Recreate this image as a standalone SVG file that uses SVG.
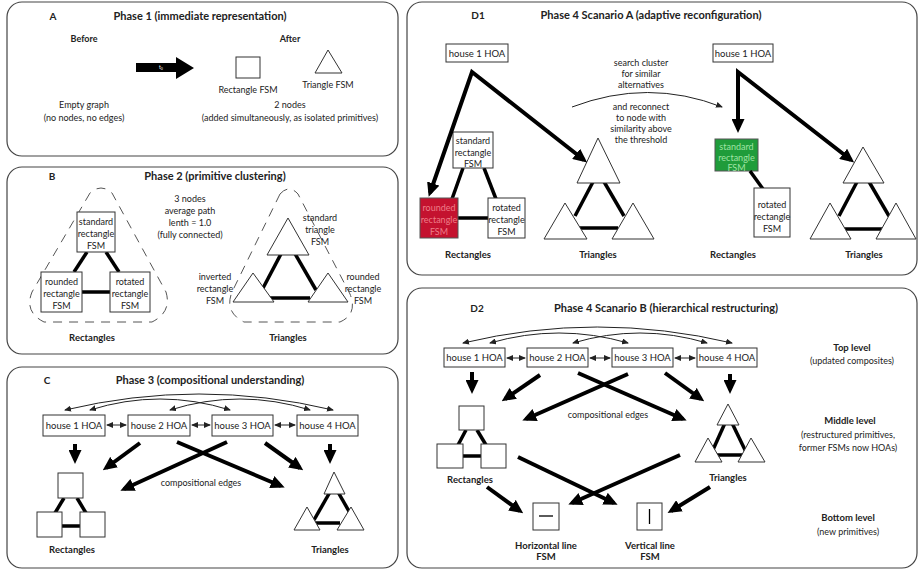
<svg xmlns="http://www.w3.org/2000/svg" width="920" height="570" viewBox="0 0 920 570">
<style>
.frame{fill:#fff;stroke:#444;stroke-width:1.2}
.t{font-family:Lato,"Liberation Sans",sans-serif;font-size:9px;fill:#222;text-anchor:middle}
.b{font-weight:bold}
.title{font-size:11px;font-weight:bold}
.lbl{font-size:9.5px;font-weight:bold}
.box{fill:#fff;stroke:#333;stroke-width:1}
.edge{stroke:#000;stroke-width:3.5;fill:none}
.arr{stroke:#000;stroke-width:4;fill:none;marker-end:url(#big)}
.arr2{stroke:#000;stroke-width:4;fill:none;marker-start:url(#big);marker-end:url(#big);stroke-linejoin:miter}
.thin{stroke:#222;stroke-width:1;fill:none;marker-start:url(#sm);marker-end:url(#sm)}
.tri{fill:#fff;stroke:#333;stroke-width:1}
.dash{fill:none;stroke:#555;stroke-width:1;stroke-dasharray:9 7}
</style>
<defs>
<marker id="big" viewBox="0 0 14 13" markerWidth="14" markerHeight="13" refX="10" refY="6.5" orient="auto-start-reverse" markerUnits="userSpaceOnUse"><path d="M0,0 L14,6.5 L0,13 z" fill="#000"/></marker>
<marker id="sm" viewBox="0 0 7 6" markerWidth="7" markerHeight="6" refX="6" refY="3" orient="auto-start-reverse" markerUnits="userSpaceOnUse"><path d="M0,0 L7,3 L0,6 z" fill="#222"/></marker>
<marker id="sm1" viewBox="0 0 7 6" markerWidth="7" markerHeight="6" refX="6" refY="3" orient="auto" markerUnits="userSpaceOnUse"><path d="M0,0 L7,3 L0,6 z" fill="#222"/></marker>
</defs>

<!-- Panel A -->
<g id="panelA">
<rect class="frame" x="7" y="2" width="391" height="154" rx="15"/>
<text class="t b" x="53" y="20" style="font-size:10px">A</text>
<text class="t title" x="200" y="20">Phase 1 (immediate representation)</text>
<text class="t b" x="84" y="42">Before</text>
<text class="t b" x="290" y="42">After</text>
<text class="t" x="84" y="108">Empty graph</text>
<text class="t" x="84" y="121">(no nodes, no edges)</text>
<text class="t" x="290" y="108">2 nodes</text>
<text class="t" x="290" y="121">(added simultaneously, as isolated primitives)</text>
</g>
<g id="arrowA">
<polygon points="136,63 176,63 176,57 194,68 176,79 176,72 136,72" fill="#000"/>
<text x="159" y="69" style="font-family:Lato,sans-serif;font-size:5px;fill:#fff">t<tspan font-size="3.5" dy="1.2">0</tspan></text>
</g>
<g id="nodeA_rect">
<rect class="box" x="236" y="57" width="24" height="21"/>
<text class="t" x="248" y="93">Rectangle FSM</text>
</g>
<g id="nodeA_tri">
<polygon class="tri" points="328,50 315,73 342,73"/>
<text class="t" x="328" y="88">Triangle FSM</text>
</g>

<!-- Panel B -->
<g id="panelB">
<rect class="frame" x="7" y="167" width="391" height="187" rx="15"/>
<text class="t b" x="52" y="180" style="font-size:10px">B</text>
<text class="t title" x="215" y="180">Phase 2 (primitive clustering)</text>
<text class="t" x="190" y="202">3 nodes</text>
<text class="t" x="190" y="214">average path</text>
<text class="t" x="190" y="226">lenth = 1.0</text>
<text class="t" x="190" y="238">(fully connected)</text>
</g>
<g id="clusterB_rect">
<path class="dash" d="M90,193 L32,292 Q24,312 44,322 L152,322 Q172,312 166,292 L112,193 Q101,183 90,193 Z"/>
<line class="edge" x1="87" y1="252" x2="74" y2="272"/>
<line class="edge" x1="106" y1="252" x2="119" y2="272"/>
<line class="edge" x1="82" y1="292" x2="110" y2="292"/>
<text class="t lbl" x="92" y="341">Rectangles</text>
</g>
<g id="B_std_rect">
<rect class="box" x="77" y="212" width="38" height="40"/>
<text class="t" x="96" y="225">standard</text>
<text class="t" x="96" y="237">rectangle</text>
<text class="t" x="96" y="249">FSM</text>
</g>
<g id="B_round_rect">
<rect class="box" x="41" y="272" width="41" height="40"/>
<text class="t" x="61.5" y="285">rounded</text>
<text class="t" x="61.5" y="297">rectangle</text>
<text class="t" x="61.5" y="309">FSM</text>
</g>
<g id="B_rot_rect">
<rect class="box" x="110" y="272" width="40" height="40"/>
<text class="t" x="130" y="285">rotated</text>
<text class="t" x="130" y="297">rectangle</text>
<text class="t" x="130" y="309">FSM</text>
</g>
<g id="clusterB_tri">
<path class="dash" d="M280,194 L232,292 Q224,312 244,322 L340,322 Q358,314 350,294 L298,194 Q289,184 280,194 Z"/>
<line class="edge" x1="282" y1="252" x2="262" y2="290"/>
<line class="edge" x1="294" y1="252" x2="316" y2="290"/>
<line class="edge" x1="268" y1="298" x2="310" y2="298"/>
<text class="t lbl" x="288" y="341">Triangles</text>
</g>
<g id="B_std_tri">
<polygon class="tri" points="288,218 267,255 309,255"/>
<text class="t" x="320" y="221">standard</text>
<text class="t" x="320" y="233">triangle</text>
<text class="t" x="320" y="245">FSM</text>
</g>
<g id="B_inv_tri">
<polygon class="tri" points="253,273 233,302 274,302"/>
<text class="t" x="215" y="280">inverted</text>
<text class="t" x="215" y="292">rectangle</text>
<text class="t" x="215" y="304">FSM</text>
</g>
<g id="B_round_tri">
<polygon class="tri" points="328,273 308,302 348,302"/>
<text class="t" x="363" y="280">rounded</text>
<text class="t" x="363" y="292">rectangle</text>
<text class="t" x="363" y="304">FSM</text>
</g>

<!-- Panel C -->
<g id="panelC">
<rect class="frame" x="7" y="367" width="391" height="201" rx="15"/>
<text class="t b" x="47" y="384" style="font-size:10px">C</text>
<text class="t title" x="210" y="384">Phase 3 (compositional understanding)</text>
<text class="t" x="201" y="486">compositional edges</text>
</g>
<g id="C_h1"><rect class="box" x="43" y="415" width="62" height="21"/><text class="t" x="74" y="429" style="font-size:9.5px">house 1 HOA</text></g>
<g id="C_h2"><rect class="box" x="128" y="415" width="62" height="21"/><text class="t" x="159" y="429" style="font-size:9.5px">house 2 HOA</text></g>
<g id="C_h3"><rect class="box" x="212" y="415" width="61" height="21"/><text class="t" x="242.5" y="429" style="font-size:9.5px">house 3 HOA</text></g>
<g id="C_h4"><rect class="box" x="297" y="415" width="61" height="21"/><text class="t" x="327.5" y="429" style="font-size:9.5px">house 4 HOA</text></g>
<g id="C_rects">
<line class="edge" x1="64" y1="498" x2="55" y2="513"/>
<line class="edge" x1="77" y1="498" x2="86" y2="513"/>
<line class="edge" x1="62" y1="526" x2="80" y2="526"/>
<rect class="box" x="58" y="473" width="25" height="25"/>
<rect class="box" x="37" y="512" width="25" height="25"/>
<rect class="box" x="80" y="512" width="25" height="25"/>
<text class="t lbl" x="72" y="553">Rectangles</text>
</g>
<g id="C_tris">
<line class="edge" x1="330" y1="492" x2="314" y2="520"/>
<line class="edge" x1="338" y1="492" x2="354" y2="520"/>
<line class="edge" x1="314" y1="523" x2="340" y2="523"/>
<polygon class="tri" points="334,472 324,494 345,494"/>
<polygon class="tri" points="307,507 294,530 320,530"/>
<polygon class="tri" points="351,507 337,530 364,530"/>
<text class="t lbl" x="330" y="553">Triangles</text>
</g>
<g id="C_connectors">
<path class="thin" d="M107,425 L126,425"/>
<path class="thin" d="M192,425 L210,425"/>
<path class="thin" d="M275,425 L295,425"/>
<path class="thin" d="M65,410 Q199,378 333,410"/>
<path class="thin" d="M90,410 Q160,388 230,410"/>
<path class="thin" d="M170,410 Q240,388 310,410"/>
<line class="arr" x1="75" y1="444" x2="75" y2="460"/>
<line class="arr" x1="330" y1="444" x2="330" y2="460"/>
<line class="arr" x1="140" y1="443" x2="106" y2="468"/>
<line class="arr" x1="177" y1="442" x2="281" y2="486"/>
<line class="arr" x1="227" y1="442" x2="124" y2="489"/>
<line class="arr" x1="265" y1="443" x2="300" y2="468"/>
</g>

<!-- Panel D1 -->
<g id="panelD1">
<rect class="frame" x="407" y="2" width="510" height="273" rx="15"/>
<text class="t b" x="478" y="19" style="font-size:10px">D1</text>
<text class="t title" x="651" y="19">Phase 4 Scanario A (adaptive reconfiguration)</text>
<text class="t" x="641" y="66">search cluster</text>
<text class="t" x="641" y="77">for similar</text>
<text class="t" x="641" y="88">alternatives</text>
<text class="t" x="641" y="110">and reconnect</text>
<text class="t" x="641" y="121">to node with</text>
<text class="t" x="641" y="132">similarity above</text>
<text class="t" x="641" y="143">the threshold</text>
</g>
<g id="D1_h1a"><rect class="box" x="446" y="44" width="62" height="18"/><text class="t" x="477" y="56.5" style="font-size:9.5px">house 1 HOA</text></g>
<g id="D1_rects_a">
<line class="edge" x1="463" y1="168" x2="452" y2="199"/>
<line class="edge" x1="484" y1="168" x2="496" y2="199"/>
<line class="edge" x1="458" y1="218" x2="488" y2="218"/>
<text class="t lbl" x="468" y="258">Rectangles</text>
</g>
<g id="D1_std_a"><rect class="box" x="453" y="132" width="40" height="36"/>
<text class="t" x="473" y="144">standard</text><text class="t" x="473" y="156">rectangle</text><text class="t" x="473" y="167">FSM</text></g>
<g id="D1_round_a"><rect x="420" y="198" width="38" height="40" fill="#c4122f" stroke="#555"/>
<text class="t" x="439" y="211" style="fill:#ee7d88">rounded</text><text class="t" x="439" y="223" style="fill:#ee7d88">rectangle</text><text class="t" x="439" y="235" style="fill:#ee7d88">FSM</text></g>
<g id="D1_rot_a"><rect class="box" x="488" y="198" width="37" height="40"/>
<text class="t" x="506.5" y="211">rotated</text><text class="t" x="506.5" y="223">rectangle</text><text class="t" x="506.5" y="235">FSM</text></g>
<g id="D1_tris_a">
<line class="edge" x1="594" y1="180" x2="575" y2="216"/>
<line class="edge" x1="603" y1="180" x2="624" y2="216"/>
<line class="edge" x1="578" y1="228" x2="618" y2="228"/>
<polygon class="tri" points="598,138 577,183 620,183"/>
<polygon class="tri" points="565,203 544,239 587,239"/>
<polygon class="tri" points="633,203 612,239 654,239"/>
<text class="t lbl" x="598" y="258">Triangles</text>
</g>
<g id="D1_h1b"><rect class="box" x="713" y="44" width="60" height="18"/><text class="t" x="743" y="56.5" style="font-size:9.5px">house 1 HOA</text></g>
<g id="D1_std_b"><rect x="715" y="139" width="43" height="32" fill="#1f9c3a" stroke="#555"/>
<text class="t" x="736.5" y="150" style="fill:#9fe3a4">standard</text><text class="t" x="736.5" y="161" style="fill:#9fe3a4">rectangle</text><text class="t" x="736.5" y="171" style="fill:#9fe3a4">FSM</text></g>
<g id="D1_rot_b">
<line class="edge" x1="750" y1="171" x2="763" y2="189"/>
<rect class="box" x="754" y="188" width="36" height="49"/>
<text class="t" x="772" y="208">rotated</text><text class="t" x="772" y="220">rectangle</text><text class="t" x="772" y="232">FSM</text>
<text class="t lbl" x="733" y="258">Rectangles</text></g>
<g id="D1_tris_b">
<line class="edge" x1="858" y1="180" x2="839" y2="216"/>
<line class="edge" x1="868" y1="180" x2="889" y2="216"/>
<line class="edge" x1="840" y1="229" x2="883" y2="229"/>
<polygon class="tri" points="863,147 843,183 884,183"/>
<polygon class="tri" points="830,203 810,239 851,239"/>
<polygon class="tri" points="896,203 876,239 916,239"/>
<text class="t lbl" x="864" y="258">Triangles</text>
</g>
<g id="D1_connectors">
<path class="arr2" d="M430,193 L472,72 L584,160"/>
<path class="arr2" d="M738,129 L738,72 L851,160"/>
<path d="M572,107 Q648,78 722,107" fill="none" stroke="#222" stroke-width="1" marker-end="url(#sm1)"/>
</g>

<!-- Panel D2 -->
<g id="panelD2">
<rect class="frame" x="407" y="288" width="510" height="280" rx="15"/>
<text class="t b" x="477" y="312" style="font-size:10px">D2</text>
<text class="t title" x="666" y="312">Phase 4 Scanario B (hierarchical restructuring)</text>
<text class="t" x="608" y="418">compositional edges</text>
<text class="t lbl" x="852" y="351">Top level</text>
<text class="t" x="852" y="364">(updated composites)</text>
<text class="t lbl" x="850" y="424">Middle level</text>
<text class="t" x="848" y="438">(restructured primitives,</text>
<text class="t" x="848" y="451">former FSMs now HOAs)</text>
<text class="t lbl" x="848" y="521">Bottom level</text>
<text class="t" x="848" y="535">(new primitives)</text>
</g>
<g id="D2_h1"><rect class="box" x="444" y="348" width="61" height="19"/><text class="t" x="474.5" y="361" style="font-size:9.5px">house 1 HOA</text></g>
<g id="D2_h2"><rect class="box" x="527" y="348" width="61" height="19"/><text class="t" x="557.5" y="361" style="font-size:9.5px">house 2 HOA</text></g>
<g id="D2_h3"><rect class="box" x="612" y="348" width="61" height="19"/><text class="t" x="642.5" y="361" style="font-size:9.5px">house 3 HOA</text></g>
<g id="D2_h4"><rect class="box" x="697" y="348" width="60" height="19"/><text class="t" x="727" y="361" style="font-size:9.5px">house 4 HOA</text></g>
<g id="D2_rects">
<line class="edge" x1="466" y1="430" x2="458" y2="445"/>
<line class="edge" x1="477" y1="430" x2="486" y2="445"/>
<line class="edge" x1="463" y1="456" x2="481" y2="456"/>
<rect class="box" x="459" y="406" width="25" height="24"/>
<rect class="box" x="437" y="444" width="26" height="24"/>
<rect class="box" x="481" y="444" width="25" height="24"/>
<text class="t lbl" x="470" y="483">Rectangles</text>
</g>
<g id="D2_tris">
<line class="edge" x1="725" y1="423" x2="712" y2="452"/>
<line class="edge" x1="732" y1="423" x2="746" y2="452"/>
<line class="edge" x1="712" y1="455" x2="745" y2="455"/>
<polygon class="tri" points="728,404 717,425 739,425"/>
<polygon class="tri" points="708,438 695,462 722,462"/>
<polygon class="tri" points="751,438 738,462 765,462"/>
<text class="t lbl" x="728" y="481">Triangles</text>
</g>
<g id="D2_hline">
<rect class="box" x="533" y="503" width="26" height="27"/>
<line x1="539" y1="516" x2="553" y2="516" stroke="#000" stroke-width="1.3"/>
<text class="t lbl" x="546" y="549">Horizontal line</text>
<text class="t lbl" x="546" y="560">FSM</text>
</g>
<g id="D2_vline">
<rect class="box" x="637" y="503" width="25" height="27"/>
<line x1="649.5" y1="509" x2="649.5" y2="524" stroke="#000" stroke-width="1.3"/>
<text class="t lbl" x="650" y="549">Vertical line</text>
<text class="t lbl" x="650" y="560">FSM</text>
</g>
<g id="D2_connectors">
<path class="thin" d="M507,358 L525,358"/>
<path class="thin" d="M590,358 L610,358"/>
<path class="thin" d="M675,358 L695,358"/>
<path class="thin" d="M463,343 Q597,311 732,343"/>
<path class="thin" d="M490,343 Q559,323 628,343"/>
<path class="thin" d="M573,343 Q640,323 707,343"/>
<line class="arr" x1="472" y1="372" x2="472" y2="390"/>
<line class="arr" x1="730" y1="374" x2="730" y2="390"/>
<line class="arr" x1="540" y1="375" x2="505" y2="399"/>
<line class="arr" x1="578" y1="373" x2="683" y2="419"/>
<line class="arr" x1="628" y1="374" x2="526" y2="419"/>
<line class="arr" x1="665" y1="373" x2="701" y2="399"/>
<line class="arr" x1="487" y1="487" x2="520" y2="511"/>
<line class="arr" x1="518" y1="457" x2="614" y2="503"/>
<line class="arr" x1="680" y1="455" x2="572" y2="503"/>
<line class="arr" x1="710" y1="487" x2="671" y2="511"/>
</g>
</svg>
